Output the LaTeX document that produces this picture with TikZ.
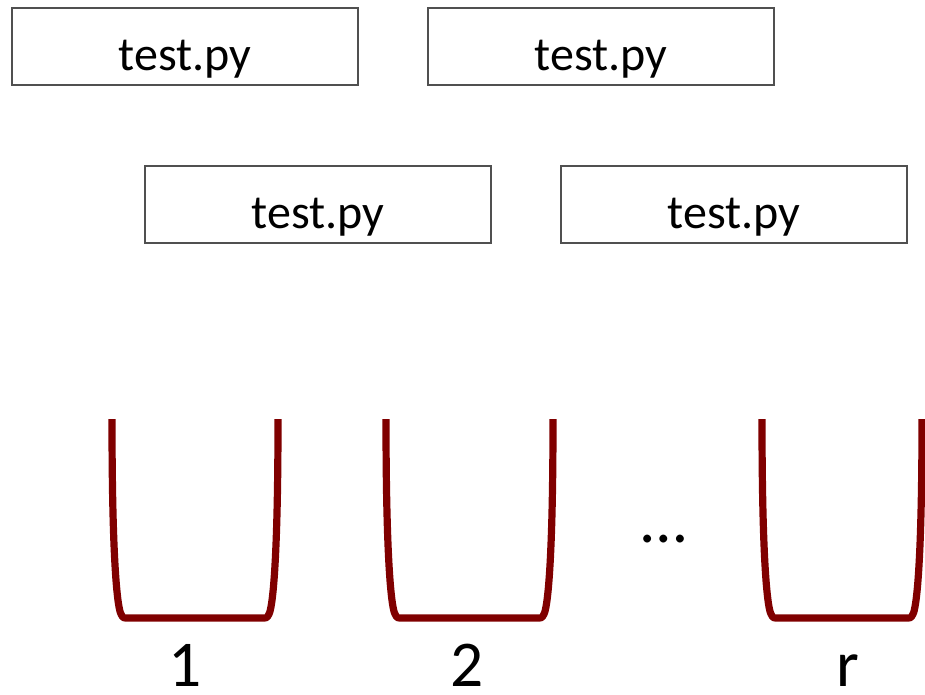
\documentclass[tikz,border=0pt]{standalone}
\usepackage{fontspec}
\setmainfont{Carlito}
\definecolor{bucketred}{HTML}{800000}
\definecolor{boxgray}{HTML}{505050}
\begin{document}
\begin{tikzpicture}[x=0.75pt,y=-0.75pt,
  filebox/.style={draw=boxgray,line width=1.1pt,minimum width=346*0.75pt,
    inner sep=0pt,text height=46.5pt,text depth=11.25pt,
    font=\fontsize{36}{40}\selectfont},
  binlabel/.style={font=\fontsize{49}{56}\selectfont,inner sep=0pt,anchor=base},
  bucket/.pic={
    \draw[bucketred,line width=5.4pt,line join=round,line cap=butt]
      (0,0) .. controls (0,151) and (6,190) .. (9,195)
      .. controls (11,199) .. (16,199) -- (#1-16,199)
      .. controls (#1-11,199) .. (#1-9,195)
      .. controls (#1-6,190) and (#1,151) .. (#1,0);
  }]
\useasboundingbox (0,0) rectangle (925,694);

% script boxes
\node[filebox] (f1) at (185,46.5) {test.py};
\node[filebox] (f2) at (601,46.5) {test.py};
\node[filebox] (f3) at (318,204.5) {test.py};
\node[filebox] (f4) at (734,204.5) {test.py};

% bins
\pic at (112,419) {bucket=166};
\pic at (386,419) {bucket=167};
\pic at (762,419) {bucket=160};

\node[binlabel] (l1) at (185,686) {1};
\node[binlabel] (l2) at (467,686) {2};
\node[binlabel] (lr) at (848,686) {r};
\node[binlabel] (dots) at (664,542) {…};
\end{tikzpicture}
\end{document}
